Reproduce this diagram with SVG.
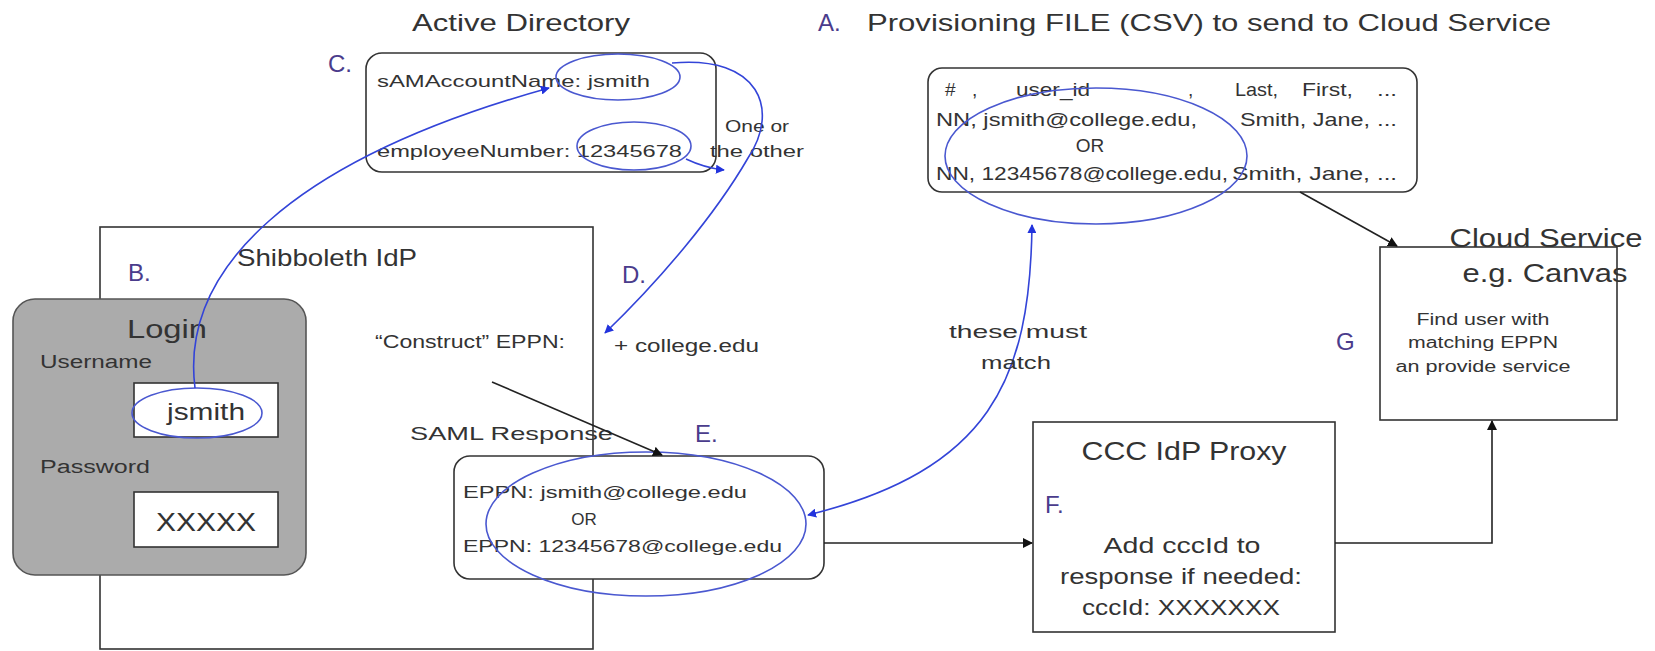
<svg xmlns="http://www.w3.org/2000/svg" width="1655" height="651" viewBox="0 0 1655 651">
<defs>
<style>
text{font-family:"Liberation Sans",Arial,Helvetica,sans-serif;fill:#333}
.box{fill:#fff;stroke:#333;stroke-width:1.6}
.lbl{fill:#4a3c8c;font-size:24px}
.ell{fill:none;stroke:#4a58d0;stroke-width:1.6}
.blue{fill:none;stroke:#3344d8;stroke-width:1.6}
.blk{fill:none;stroke:#222;stroke-width:1.6}
</style>
<marker id="ab" viewBox="0 0 10 10" refX="9" refY="5" markerWidth="9" markerHeight="9" markerUnits="userSpaceOnUse" orient="auto-start-reverse"><path d="M0,0 L10,5 L0,10 z" fill="#2233dd"/></marker>
<marker id="ak" viewBox="0 0 10 10" refX="9" refY="5" markerWidth="10" markerHeight="10" markerUnits="userSpaceOnUse" orient="auto"><path d="M0,0 L10,5 L0,10 z" fill="#111"/></marker>
</defs>
<rect width="1655" height="651" fill="#fff"/>

<g id="shibboleth">
<rect class="box" x="100" y="227" width="493" height="422"/>
<text x="237" y="266" font-size="24" textLength="180" lengthAdjust="spacingAndGlyphs">Shibboleth IdP</text>
<text class="lbl" x="128" y="281">B.</text>
<text x="375" y="348" font-size="18" textLength="190" lengthAdjust="spacingAndGlyphs">“Construct” EPPN:</text>
<text x="614" y="352" font-size="18" textLength="145" lengthAdjust="spacingAndGlyphs">+ college.edu</text>
<text class="lbl" x="622" y="283">D.</text>
<text x="410" y="440" font-size="19" textLength="203" lengthAdjust="spacingAndGlyphs">SAML Response</text>
<text class="lbl" x="695" y="442">E.</text>
</g>

<g id="login">
<rect x="13" y="299" width="293" height="276" rx="22" fill="#ababab" stroke="#555" stroke-width="1.6"/>
<text x="167" y="338" font-size="26" text-anchor="middle" textLength="80" lengthAdjust="spacingAndGlyphs">Login</text>
<text x="40" y="368" font-size="18" textLength="112" lengthAdjust="spacingAndGlyphs">Username</text>
<rect class="box" x="134" y="383" width="144" height="54"/>
<text x="206" y="420" font-size="24" text-anchor="middle" textLength="78" lengthAdjust="spacingAndGlyphs">jsmith</text>
<text x="40" y="473" font-size="18" textLength="110" lengthAdjust="spacingAndGlyphs">Password</text>
<rect class="box" x="134" y="492" width="144" height="55"/>
<text x="206" y="531" font-size="25" text-anchor="middle" textLength="100" lengthAdjust="spacingAndGlyphs">XXXXX</text>
<ellipse class="ell" cx="197" cy="413" rx="65" ry="25"/>
</g>

<g id="active-directory">
<text x="412" y="31" font-size="24" textLength="218" lengthAdjust="spacingAndGlyphs">Active Directory</text>
<text class="lbl" x="328" y="72">C.</text>
<rect class="box" x="366" y="53" width="350" height="119" rx="16"/>
<text x="377" y="87" font-size="17" textLength="273" lengthAdjust="spacingAndGlyphs">sAMAccountName: jsmith</text>
<text x="377" y="157" font-size="17" textLength="305" lengthAdjust="spacingAndGlyphs">employeeNumber: 12345678</text>
<ellipse class="ell" cx="618" cy="77" rx="62" ry="23"/>
<ellipse class="ell" cx="634" cy="146" rx="57" ry="24"/>
<text x="757" y="132" font-size="16" text-anchor="middle" textLength="64" lengthAdjust="spacingAndGlyphs">One or</text>
<text x="757" y="157" font-size="16" text-anchor="middle" textLength="94" lengthAdjust="spacingAndGlyphs">the other</text>
</g>

<g id="provisioning-file">
<text class="lbl" x="818" y="31">A.</text>
<text x="867" y="31" font-size="24" textLength="684" lengthAdjust="spacingAndGlyphs">Provisioning FILE (CSV) to send to Cloud Service</text>
<rect class="box" x="928" y="68" width="489" height="124" rx="14"/>
<g font-size="19">
<text x="945" y="96">#</text><text x="972" y="96">,</text>
<text x="1016" y="96" textLength="74" lengthAdjust="spacingAndGlyphs">user_id</text>
<text x="1188" y="96">,</text>
<text x="1235" y="96" textLength="43" lengthAdjust="spacingAndGlyphs">Last,</text>
<text x="1302" y="96" textLength="51" lengthAdjust="spacingAndGlyphs">First,</text>
<text x="1377" y="96" textLength="20" lengthAdjust="spacingAndGlyphs">...</text>
<text x="936" y="126" textLength="261" lengthAdjust="spacingAndGlyphs">NN, jsmith@college.edu,</text>
<text x="1240" y="126" textLength="130" lengthAdjust="spacingAndGlyphs">Smith, Jane,</text>
<text x="1377" y="126" textLength="20" lengthAdjust="spacingAndGlyphs">...</text>
<text x="1090" y="152" text-anchor="middle">OR</text>
<text x="936" y="180" textLength="292" lengthAdjust="spacingAndGlyphs">NN, 12345678@college.edu,</text>
<text x="1232" y="180" textLength="138" lengthAdjust="spacingAndGlyphs">Smith, Jane,</text>
<text x="1377" y="180" textLength="20" lengthAdjust="spacingAndGlyphs">...</text>
</g>
<ellipse class="ell" cx="1096" cy="156" rx="151" ry="68"/>
</g>

<g id="saml-response">
<rect class="box" x="454" y="456" width="370" height="123" rx="16"/>
<text x="463" y="498" font-size="17" textLength="284" lengthAdjust="spacingAndGlyphs">EPPN:  jsmith@college.edu</text>
<text x="584" y="525" font-size="17" text-anchor="middle">OR</text>
<text x="463" y="552" font-size="17" textLength="319" lengthAdjust="spacingAndGlyphs">EPPN: 12345678@college.edu</text>
<ellipse class="ell" cx="646" cy="524" rx="160" ry="72"/>
</g>

<g id="ccc-idp-proxy">
<rect class="box" x="1033" y="422" width="302" height="210"/>
<text x="1184" y="460" font-size="25" text-anchor="middle" textLength="205" lengthAdjust="spacingAndGlyphs">CCC IdP Proxy</text>
<text class="lbl" x="1045" y="513">F.</text>
<text x="1182" y="553" font-size="22" text-anchor="middle" textLength="157" lengthAdjust="spacingAndGlyphs">Add cccId to</text>
<text x="1181" y="584" font-size="22" text-anchor="middle" textLength="242" lengthAdjust="spacingAndGlyphs">response if needed:</text>
<text x="1181" y="615" font-size="22" text-anchor="middle" textLength="198" lengthAdjust="spacingAndGlyphs">cccId: XXXXXXX</text>
</g>

<g id="cloud-service">
<rect class="box" x="1380" y="247" width="237" height="173"/>
<text x="1546" y="247" font-size="25" text-anchor="middle" textLength="193" lengthAdjust="spacingAndGlyphs">Cloud Service</text>
<text x="1545" y="282" font-size="25" text-anchor="middle" textLength="165" lengthAdjust="spacingAndGlyphs">e.g. Canvas</text>
<text x="1483" y="325" font-size="16" text-anchor="middle" textLength="133" lengthAdjust="spacingAndGlyphs">Find user with</text>
<text x="1483" y="348" font-size="16" text-anchor="middle" textLength="150" lengthAdjust="spacingAndGlyphs">matching EPPN</text>
<text x="1483" y="372" font-size="16" text-anchor="middle" textLength="175" lengthAdjust="spacingAndGlyphs">an provide service</text>
<text class="lbl" x="1336" y="350">G</text>
</g>

<g id="connectors">
<path class="blue" d="M195,388 C180,270 290,160 549,88" marker-end="url(#ab)"/>
<path class="blue" d="M672,63 C760,55 780,110 748,158 C715,215 660,280 605,333" marker-end="url(#ab)"/>
<path class="blue" d="M686,159 Q705,168 724,170" marker-end="url(#ab)"/>
<path class="blue" d="M1032,225 C1030,380 990,470 808,515" marker-start="url(#ab)" marker-end="url(#ab)"/>
<path class="blk" d="M492,382 L662,455" marker-end="url(#ak)"/>
<path class="blk" d="M824,543 L1032,543" marker-end="url(#ak)"/>
<path class="blk" d="M1300,192 L1397,246" marker-end="url(#ak)"/>
<path class="blk" d="M1335,543 H1492 V421" marker-end="url(#ak)"/>
<text x="1018" y="338" font-size="19" text-anchor="middle" textLength="138" lengthAdjust="spacingAndGlyphs">these must</text>
<text x="1016" y="369" font-size="19" text-anchor="middle" textLength="70" lengthAdjust="spacingAndGlyphs">match</text>
</g>
</svg>
